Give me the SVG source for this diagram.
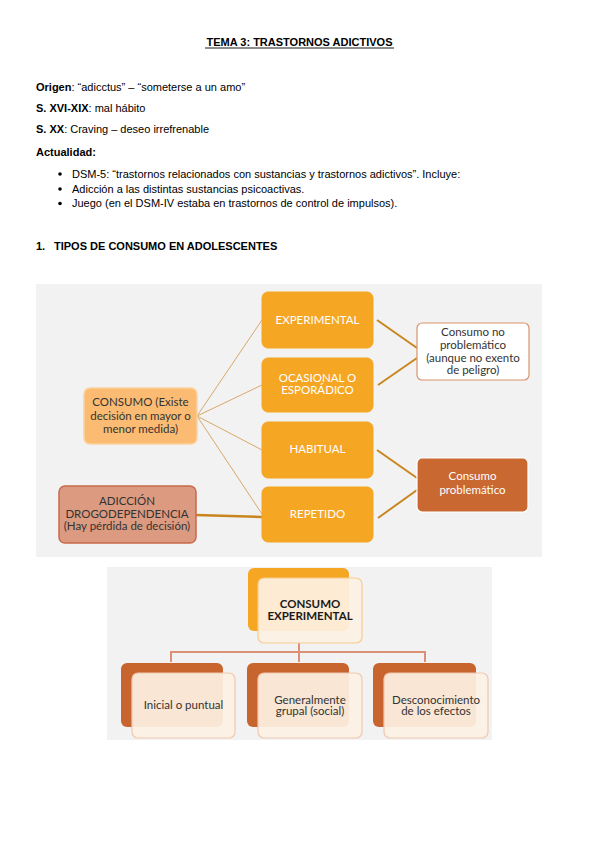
<svg xmlns="http://www.w3.org/2000/svg" width="599" height="848" viewBox="0 0 599 848">
<style>
.t{font-family:"Liberation Sans",Arial,sans-serif;font-size:11px;fill:#000}
.b{font-weight:bold}
.d{font-family:Lato,"Open Sans",sans-serif;font-size:11.5px;text-anchor:middle}
.w{fill:#fff}
.k{fill:#333}
.og{fill:#f5a623;stroke:#f5a623}
.thin{stroke:#d8a868;stroke-width:1;fill:none}
.thick{stroke:#c9861f;stroke-width:2;fill:none}
.cr{fill:#fdf1e4;fill-opacity:0.92}
</style>
<rect width="599" height="848" fill="#fff"/>

<!-- Header text -->
<g id="header">
<text x="299.5" y="46" class="t b" text-anchor="middle" font-size="11">TEMA 3: TRASTORNOS ADICTIVOS</text>
<line x1="205" y1="48" x2="394" y2="48" stroke="#000" stroke-width="0.9"/>
<text x="36" y="91" class="t"><tspan class="b">Origen</tspan>: “adicctus” – “someterse a un amo”</text>
<text x="36" y="112" class="t"><tspan class="b">S. XVI-XIX</tspan>: mal hábito</text>
<text x="36" y="133" class="t"><tspan class="b">S. XX</tspan>: Craving – deseo irrefrenable</text>
<text x="36" y="156" class="t b">Actualidad:</text>
<circle cx="60" cy="174" r="1.8" fill="#000"/>
<circle cx="60" cy="189" r="1.8" fill="#000"/>
<circle cx="60" cy="203.5" r="1.8" fill="#000"/>
<text x="72" y="177.5" class="t">DSM-5: “trastornos relacionados con sustancias y trastornos adictivos”. Incluye:</text>
<text x="72" y="192.5" class="t">Adicción a las distintas sustancias psicoactivas.</text>
<text x="72" y="207" class="t">Juego (en el DSM-IV estaba en trastornos de control de impulsos).</text>
<text y="250" class="t b"><tspan x="36">1.</tspan><tspan x="54">TIPOS DE CONSUMO EN ADOLESCENTES</tspan></text>
</g>

<!-- Diagram 1 background -->
<rect x="36" y="284" width="506" height="273" fill="#f2f2f2"/>

<g id="connectors1">
<line class="thin" x1="197" y1="416" x2="262" y2="320"/>
<line class="thin" x1="197" y1="416" x2="262" y2="385"/>
<line class="thin" x1="197" y1="416" x2="262" y2="450"/>
<line class="thin" x1="197" y1="416" x2="262" y2="514"/>
<line x1="196" y1="515" x2="262" y2="517" stroke="#c9861f" stroke-width="2.5"/>
<line class="thick" x1="377" y1="320" x2="417" y2="348"/>
<line class="thick" x1="378" y1="385" x2="417" y2="358"/>
<line class="thick" x1="377" y1="450" x2="417" y2="478"/>
<line class="thick" x1="378" y1="518" x2="417" y2="490"/>
</g>

<g id="consumo">
<rect x="84" y="388" width="113" height="56" rx="6" fill="#fbbb72" stroke="#fcd49e" stroke-width="1.5"/>
<text class="d k" x="140.5" y="406">CONSUMO (Existe</text>
<text class="d k" x="140.5" y="420">decisión en mayor o</text>
<text class="d k" x="140.5" y="432.5">menor medida)</text>
</g>

<g id="adiccion">
<rect x="59" y="486" width="137" height="57" rx="6" fill="#dc9a80" stroke="#c86a4c" stroke-width="1.5"/>
<text class="d k" x="127" y="505">ADICCIÓN</text>
<text class="d k" x="127" y="517.5">DROGODEPENDENCIA</text>
<text class="d k" x="127" y="530">(Hay pérdida de decisión)</text>
</g>

<g id="experimental">
<rect class="og" x="262" y="292" width="111" height="56" rx="6"/>
<text class="d w" x="317.5" y="324">EXPERIMENTAL</text>
</g>
<g id="ocasional">
<rect class="og" x="262" y="358" width="111" height="54" rx="6"/>
<text class="d w" x="317.5" y="381.5">OCASIONAL O</text>
<text class="d w" x="317.5" y="394">ESPORÁDICO</text>
</g>
<g id="habitual">
<rect class="og" x="262" y="422" width="111" height="56" rx="6"/>
<text class="d w" x="317.5" y="452.5">HABITUAL</text>
</g>
<g id="repetido">
<rect class="og" x="262" y="487" width="111" height="55" rx="6"/>
<text class="d w" x="317.5" y="518">REPETIDO</text>
</g>

<g id="noproblematico">
<rect x="417" y="323" width="112" height="57" rx="5" fill="#fff" stroke="#d9946a" stroke-width="1.2"/>
<text class="d k" x="473" y="336">Consumo no</text>
<text class="d k" x="473" y="349">problemático</text>
<text class="d k" x="473" y="362">(aunque no exento</text>
<text class="d k" x="473" y="374">de peligro)</text>
</g>

<g id="problematico">
<rect x="417" y="458" width="111" height="54" rx="5" fill="#c96830" stroke="#fff" stroke-width="1.2"/>
<text class="d w" x="472.5" y="480">Consumo</text>
<text class="d w" x="472.5" y="494">problemático</text>
</g>

<!-- Diagram 2 -->
<rect x="107" y="567" width="385" height="173" fill="#f2f2f2"/>

<g id="connectors2" stroke="#dc9078" stroke-width="2" fill="none">
<line x1="299" y1="643" x2="299" y2="662"/>
<polyline points="171,662 171,652 425,652 425,662"/>
</g>

<g id="consumoexp">
<rect x="248" y="568" width="101" height="63" rx="6" fill="#f5a623"/>
<rect class="cr" x="258" y="578" width="104" height="65" rx="6" stroke="#f8cc90" stroke-width="1.2"/>
<text class="d" x="310" y="607.5" font-size="10.5" font-weight="bold" fill="#1a1a1a">CONSUMO</text>
<text class="d" x="310" y="619.5" font-size="10.5" font-weight="bold" fill="#1a1a1a">EXPERIMENTAL</text>
</g>

<g id="inicial">
<rect x="121" y="663" width="102" height="64" rx="6" fill="#c8652e"/>
<rect class="cr" x="132" y="673" width="103" height="65" rx="6" stroke="#f0c8b0" stroke-width="1.2"/>
<text class="d k" x="183.5" y="709" font-size="10.5">Inicial o puntual</text>
</g>
<g id="grupal">
<rect x="247" y="663" width="102" height="64" rx="6" fill="#c8652e"/>
<rect class="cr" x="258" y="673" width="104" height="65" rx="6" stroke="#f0c8b0" stroke-width="1.2"/>
<text class="d k" x="310" y="703.5" font-size="10.5">Generalmente</text>
<text class="d k" x="310" y="715" font-size="10.5">grupal (social)</text>
</g>
<g id="desconocimiento">
<rect x="373" y="663" width="103" height="64" rx="6" fill="#c8652e"/>
<rect class="cr" x="384" y="673" width="104" height="65" rx="6" stroke="#f0c8b0" stroke-width="1.2"/>
<text class="d k" x="436" y="703.5" font-size="10.5">Desconocimiento</text>
<text class="d k" x="436" y="715" font-size="10.5">de los efectos</text>
</g>
</svg>
